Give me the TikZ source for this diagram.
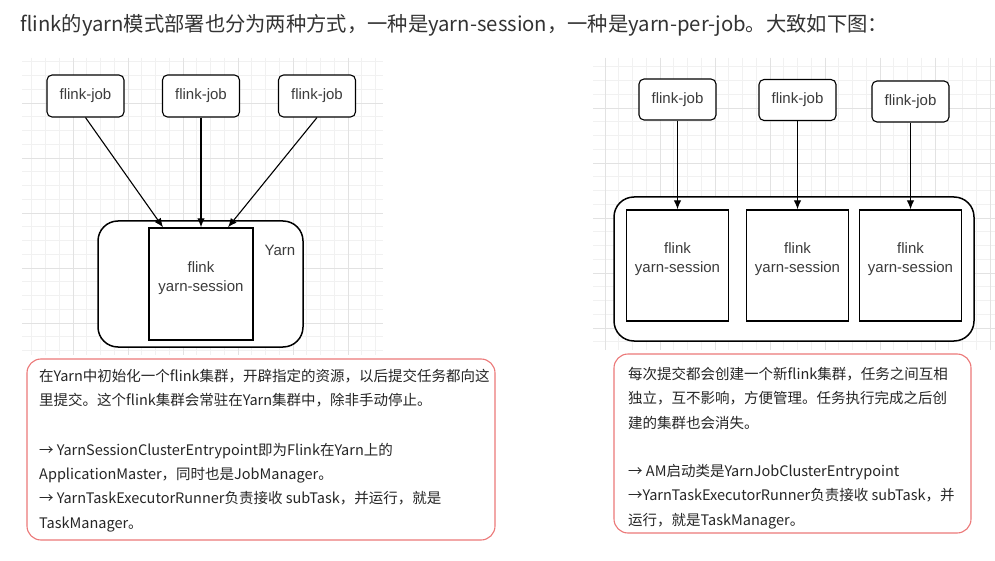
\documentclass[tikz,border=0pt]{standalone}
\usepackage{fontspec}
\setmainfont{Liberation Sans}
\newfontfamily\cjk{Noto Sans CJK SC}
\usetikzlibrary{positioning,calc,arrows.meta}

\definecolor{gridmin}{RGB}{241,241,241}
\definecolor{gridmaj}{RGB}{226,226,226}
\definecolor{notered}{RGB}{236,120,120}
\definecolor{labelgray}{RGB}{60,60,60}
\definecolor{titlegray}{RGB}{51,51,51}

\tikzset{
  jobbox/.style={draw, rounded corners=5pt, fill=white, line width=1.1pt,
    minimum width=77pt, minimum height=42pt, inner sep=0pt,
    font=\fontsize{15}{18}\selectfont, text=labelgray},
  yarnbox/.style={draw, rounded corners=20pt, fill=white, line width=1.5pt, inner sep=0pt},
  sessbox/.style={draw, fill=white, line width=1.4pt, minimum width=102pt,
    minimum height=111pt, inner sep=0pt},
  sesstext/.style={align=center, font=\fontsize{15}{19}\selectfont, text=labelgray, inner sep=0pt},
  notebox/.style={draw=notered, rounded corners=14pt, line width=1.1pt, inner sep=0pt},
  notetext/.style={anchor=north west, align=left, inner sep=0pt,
    font=\cjk\fontsize{14.5}{24.3}\selectfont, text=black!85},
  jobarrow/.style={line width=1.1pt, -{Latex[length=9pt,width=7.5pt]}},
}

\begin{document}
\begin{tikzpicture}[x=1pt,y=-1pt]
  \useasboundingbox[fill=white] (0,0) rectangle (995,561);

  % background grids
  \foreach \i in {1,...,26}
    \draw[gridmin,line width=0.6pt] ({18+13.75*\i},58) -- ({18+13.75*\i},355);
  \foreach \j in {1,...,22}
    \draw[gridmin,line width=0.6pt] (22,{48+13.75*\j}) -- (383,{48+13.75*\j});
  \foreach \i in {4,8,...,24}
    \draw[gridmaj,line width=0.8pt] ({18+13.75*\i},58) -- ({18+13.75*\i},355);
  \foreach \j in {4,8,...,20}
    \draw[gridmaj,line width=0.8pt] (22,{48+13.75*\j}) -- (383,{48+13.75*\j});

  \foreach \i in {0,...,28}
    \draw[gridmin,line width=0.6pt] ({605+13.75*\i},58) -- ({605+13.75*\i},350);
  \foreach \j in {1,...,21}
    \draw[gridmin,line width=0.6pt] (593,{53+13.75*\j}) -- (995,{53+13.75*\j});
  \foreach \i in {0,4,...,28}
    \draw[gridmaj,line width=0.8pt] ({605+13.75*\i},58) -- ({605+13.75*\i},350);
  \foreach \j in {4,8,...,20}
    \draw[gridmaj,line width=0.8pt] (593,{53+13.75*\j}) -- (995,{53+13.75*\j});

  % title
  \node[anchor=west, inner sep=0pt, font=\cjk\fontsize{20.3}{22}\selectfont, text=titlegray] (title) at (20,25)
    {flink的yarn模式部署也分为两种方式，一种是yarn-session，一种是yarn-per-job。大致如下图：};

  % yarn-session
  \node[yarnbox, minimum width=205pt, minimum height=126pt] (yarnL) at (200.5,284) {};
  \node[sessbox, minimum width=104pt, minimum height=112pt] (sessL) at (201,284) {};
  \node[sesstext] (sessLt) at (201,278) {flink\\yarn-session};
  \node[sesstext] (yarnLbl) at (280,250) {Yarn};

  \node[jobbox] (jobA) at (85.5,96) {flink-job};
  \node[jobbox] (jobB) at (201,96) {flink-job};
  \node[jobbox] (jobC) at (317,96) {flink-job};

  \draw[jobarrow] (jobA.south) -- ([xshift=-38pt]sessL.north);
  \draw[jobarrow] (jobB.south) -- (sessL.north);
  \draw[jobarrow] (jobC.south) -- ([xshift=27pt]sessL.north);

  % yarn-per-job
  \node[yarnbox, minimum width=360pt, minimum height=144pt] (yarnR) at (794,269) {};
  \foreach \n/\x in {D/677.5,E/797.5,F/910.5}{
    \node[sessbox] (sess\n) at (\x,265.5) {};
    \node[sesstext] (sess\n t) at (\x,259) {flink\\yarn-session};
  }
  \node[jobbox, minimum height=41pt] (jobD) at (677.5,99.5) {flink-job};
  \node[jobbox, minimum height=41pt] (jobE) at (797.5,100) {flink-job};
  \node[jobbox, minimum height=41pt] (jobF) at (910.5,101.5) {flink-job};

  \foreach \n in {D,E,F}
    \draw[jobarrow] (job\n.south) -- (sess\n.north);

  % notes
  \node[notebox, minimum width=468pt, minimum height=181pt] (noteL) at (261,449.5) {};
  \node[notetext] (noteLt) at (39,369)
    {在Yarn中初始化一个flink集群，开辟指定的资源，以后提交任务都向这\\
     里提交。这个flink集群会常驻在Yarn集群中，除非手动停止。\\[25pt]
     → YarnSessionClusterEntrypoint即为Flink在Yarn上的\\
     ApplicationMaster，同时也是JobManager。\\
     → YarnTaskExecutorRunner负责接收 subTask，并运行，就是\\
     TaskManager。};

  \node[notebox, minimum width=357pt, minimum height=179pt] (noteR) at (792.5,443.5) {};
  \node[notetext] (noteRt) at (628,367)
    {每次提交都会创建一个新flink集群，任务之间互相\\
     独立，互不影响，方便管理。任务执行完成之后创\\
     建的集群也会消失。\\[24pt]
     → AM启动类是YarnJobClusterEntrypoint\\
     →YarnTaskExecutorRunner负责接收 subTask，并\\
     运行，就是TaskManager。};
\end{tikzpicture}
\end{document}
